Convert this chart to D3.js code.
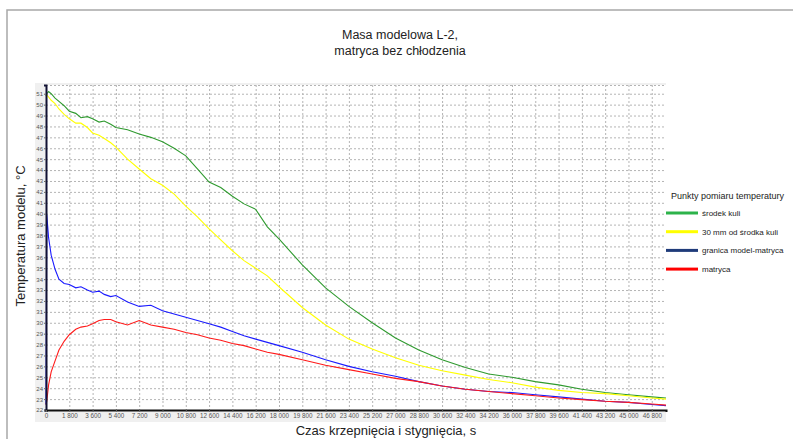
<!DOCTYPE html>
<html>
<head>
  <meta charset="utf-8">
  <title>Masa modelowa L-2</title>
  <script src="https://d3js.org/d3.v7.min.js"></script>
  <style>
    body { margin: 0; background: #fff; }
    text { font-family: "Liberation Sans", Arial, sans-serif; }
    .grid line { stroke: #b4b4b4; stroke-dasharray: 2,2; }
    .grid .domain { stroke: none; }
    .yaxis text, .xaxis text { fill: #555; }
    .yaxis line, .xaxis line { stroke: #666; }
  </style>
</head>
<body>
<svg id="chart" width="793" height="439"></svg>
<script>
  // czas pomiaru, s
  const times = [0, 60, 200, 400, 700, 1000, 1400, 1800, 2300, 2700, 3200, 3600, 4100, 4500,
    5000, 5400, 6300, 7200, 8100, 9000, 9900, 10800, 11700, 12600, 13500, 14400, 15300,
    16200, 17100, 18000, 19800, 21600, 23400, 25200, 27000, 28800, 30600, 32400, 34200,
    36000, 37800, 39600, 41400, 43200, 45000, 46800, 47900];

  // temperatury, °C
  const srodekKuli = [50.8, 51.0, 51.2, 51.0, 50.6, 50.3, 49.9, 49.4, 49.2, 48.8, 48.9, 48.7,
    48.4, 48.5, 48.2, 47.9, 47.7, 47.3, 47.0, 46.6, 46.0, 45.3, 44.1, 42.9, 42.4, 41.6, 40.9,
    40.4, 38.8, 37.7, 35.3, 33.2, 31.5, 30.0, 28.6, 27.5, 26.6, 25.9, 25.3, 25.0, 24.6, 24.3,
    23.9, 23.6, 23.4, 23.2, 23.1];
  const mm30 = [50.9, 50.9, 50.7, 50.4, 50.1, 49.6, 49.1, 48.7, 48.3, 48.3, 47.9, 47.4,
    47.2, 46.9, 46.5, 46.1, 45.0, 44.1, 43.2, 42.6, 41.8, 40.7, 39.7, 38.6, 37.6, 36.6, 35.7,
    35.0, 34.3, 33.3, 31.4, 29.8, 28.5, 27.6, 26.8, 26.1, 25.6, 25.2, 24.8, 24.5, 24.1, 23.8,
    23.6, 23.5, 23.3, 23.1, 23.0];
  const granica = [22.5, 39.9, 37.8, 36.2, 34.9, 34.0, 33.6, 33.5, 33.2, 33.3, 33.0, 32.8,
    32.9, 32.6, 32.4, 32.5, 31.9, 31.5, 31.6, 31.1, 30.8, 30.5, 30.2, 29.9, 29.6, 29.2, 28.8,
    28.5, 28.2, 27.9, 27.3, 26.6, 26.0, 25.5, 25.1, 24.6, 24.2, 23.9, 23.7, 23.6, 23.4, 23.2,
    23.0, 22.8, 22.7, 22.5, 22.4];
  const matryca = [22.5, 22.8, 24.3, 25.5, 26.5, 27.5, 28.3, 28.9, 29.4, 29.6, 29.7, 29.9,
    30.2, 30.3, 30.3, 30.1, 29.8, 30.2, 29.8, 29.6, 29.4, 29.1, 28.9, 28.6, 28.4, 28.1, 27.9,
    27.6, 27.3, 27.1, 26.6, 26.1, 25.7, 25.3, 24.9, 24.6, 24.2, 23.9, 23.7, 23.5, 23.3, 23.1,
    22.95, 22.8, 22.7, 22.55, 22.45];

  const seriesNames = ["środek kuli", "30 mm od środka kuli", "granica model-matryca", "matryca"];
  const xTicks = d3.range(0, 46801, 1800);
  const yTicks = d3.range(22, 52, 1);

  const series = [
    { name: seriesNames[0], values: srodekKuli, color: "#2f9a2f", legend: "#2db34a" },
    { name: seriesNames[1], values: mm30, color: "#ffff00", legend: "#ffff00" },
    { name: seriesNames[2], values: granica, color: "#1a1aff", legend: "#1f3b7a" },
    { name: seriesNames[3], values: matryca, color: "#ff1a1a", legend: "#ff0000" }
  ];

  let svg = d3.select("#chart");

  let plot = {left: 46, right: 666, top: 85, bottom: 410};

  let x = d3.scaleLinear().domain([0, 47900]).range([plot.left, plot.right]);
  let y = d3.scaleLinear().domain([22, 51.8]).range([plot.bottom, plot.top]);

  const fmt = d3.formatLocale({decimal: ",", thousands: " ", grouping: [3], currency: ["", ""]}).format(",d");

  // ramka
  svg.append("rect")
    .attr("x", 7).attr("y", 10)
    .attr("width", 800).attr("height", 440)
    .attr("fill", "#fff")
    .attr("stroke", "#a8a8a8")
    .attr("stroke-width", 1.5);

  // szare tło pod osiami
  svg.append("rect")
    .attr("x", 35).attr("y", plot.top - 2)
    .attr("width", plot.right - 35).attr("height", plot.bottom - plot.top + 14)
    .attr("fill", "#f0f0f0");
  svg.append("rect")
    .attr("x", plot.left).attr("y", plot.top)
    .attr("width", plot.right - plot.left).attr("height", plot.bottom - plot.top)
    .attr("fill", "#fff");

  // siatka
  svg.append("g")
    .attr("class", "grid")
    .attr("transform", `translate(0, ${plot.top})`)
    .call(d3.axisBottom(x).tickValues(xTicks).tickSize(plot.bottom - plot.top).tickFormat(""));
  svg.append("g")
    .attr("class", "grid")
    .attr("transform", `translate(${plot.left}, 0)`)
    .call(d3.axisLeft(y).tickValues(yTicks.concat([51.8])).tickSize(-(plot.right - plot.left)).tickFormat(""));

  // linie pomiarowe
  let line = d3.line()
    .x((d, i) => x(times[i]))
    .y(d => y(d));

  series.forEach(s => {
    svg.append("path")
      .datum(s.values)
      .attr("d", line)
      .attr("fill", "none")
      .attr("stroke", s.color)
      .attr("stroke-width", 1.1);
  });

  // osie
  let yAxis = svg.append("g")
    .attr("class", "yaxis")
    .attr("transform", `translate(${plot.left}, 0)`)
    .call(d3.axisLeft(y).tickValues(yTicks).tickSize(2).tickPadding(1).tickFormat(d3.format("d")));
  yAxis.selectAll("text").style("font-size", "6px");
  yAxis.select(".domain").attr("stroke", "#111133").attr("stroke-width", 2);

  let xAxis = svg.append("g")
    .attr("class", "xaxis")
    .attr("transform", `translate(0, ${plot.bottom})`)
    .call(d3.axisBottom(x).tickValues(xTicks).tickSize(2).tickPadding(2).tickFormat(fmt));
  xAxis.selectAll("text").style("font-size", "6.3px");
  xAxis.select(".domain").attr("stroke", "#111").attr("stroke-width", 2);

  // tytuł
  svg.append("text")
    .attr("x", 400).attr("y", 39)
    .attr("text-anchor", "middle")
    .style("font-size", "12.5px").attr("fill", "#222")
    .text("Masa modelowa L-2,");
  svg.append("text")
    .attr("x", 400).attr("y", 55)
    .attr("text-anchor", "middle")
    .style("font-size", "12.5px").attr("fill", "#222")
    .text("matryca bez chłodzenia");

  // opisy osi
  svg.append("text")
    .attr("x", 386).attr("y", 435)
    .attr("text-anchor", "middle")
    .style("font-size", "13px").attr("fill", "#222")
    .text("Czas krzepnięcia i stygnięcia, s");
  svg.append("text")
    .attr("transform", "translate(25, 236) rotate(-90)")
    .attr("text-anchor", "middle")
    .style("font-size", "13px").attr("fill", "#222")
    .text("Temperatura modelu, °C");

  // legenda
  svg.append("text")
    .attr("x", 671).attr("y", 199)
    .style("font-size", "9px").attr("fill", "#222")
    .text("Punkty pomiaru temperatury");

  let legend = svg.selectAll(".legend")
    .data(series)
    .enter()
    .append("g")
    .attr("class", "legend")
    .attr("transform", (d, i) => `translate(666, ${213 + i * 18.7})`);

  legend.append("line")
    .attr("x1", 0).attr("x2", 32)
    .attr("stroke", d => d.legend)
    .attr("stroke-width", 3);
  legend.append("text")
    .attr("x", 36).attr("y", 3)
    .style("font-size", "8px").attr("fill", "#222")
    .text(d => d.name);
</script>
</body>
</html>
